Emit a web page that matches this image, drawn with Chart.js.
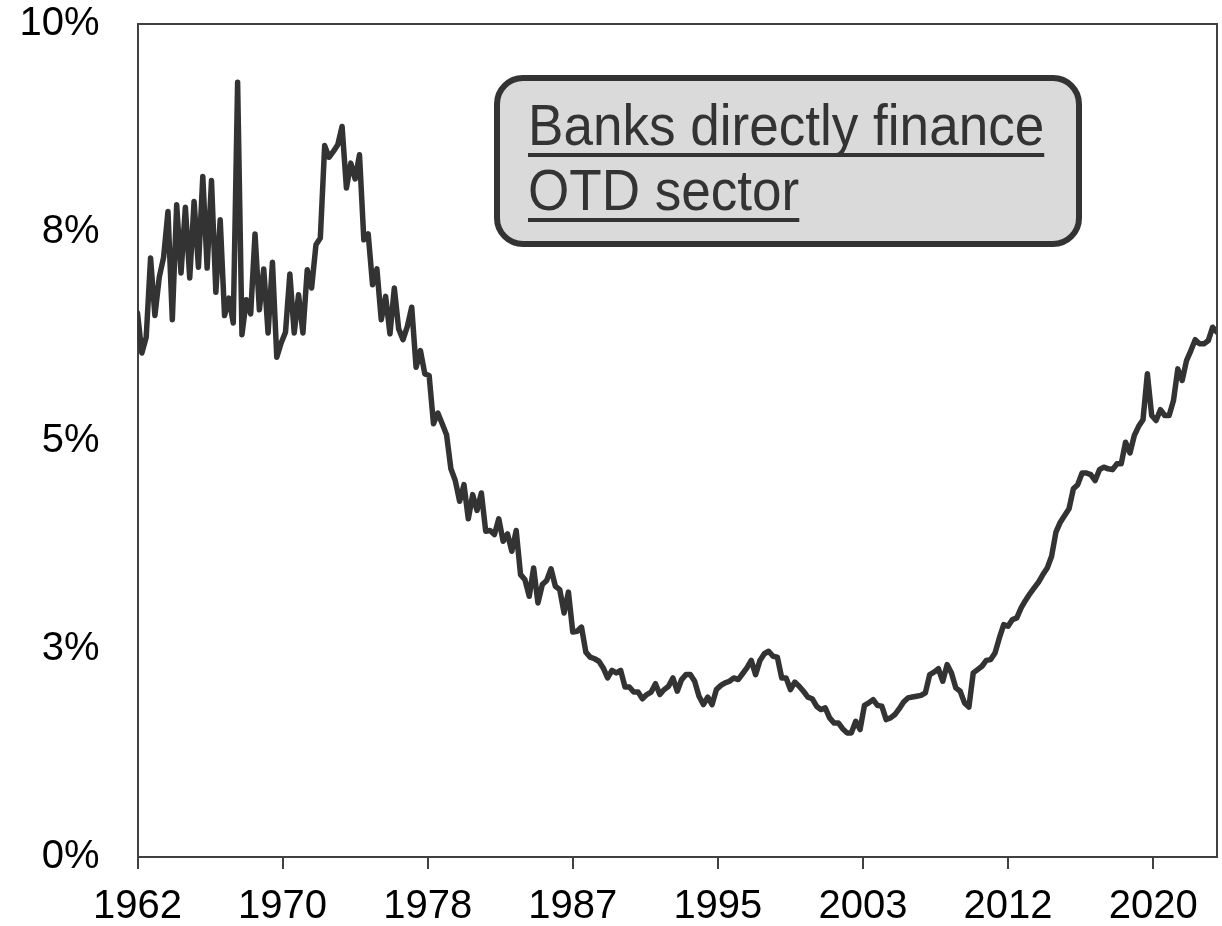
<!DOCTYPE html>
<html>
<head>
<meta charset="utf-8">
<title>Banks directly finance OTD sector</title>
<script src="https://cdn.jsdelivr.net/npm/chart.js@4.4.1/dist/chart.umd.min.js"></script>
<style>
  html, body { margin: 0; padding: 0; background: #ffffff; }
  #wrap { width: 1222px; height: 926px; }
</style>
</head>
<body>
<div id="wrap"><canvas id="otdChart" width="1222" height="926"></canvas></div>
<script>
// quarterly observations, first one is 1962 Q1 (percent)
const startYear = 1962;
const shareValues = [
  6.53, 6.05, 6.24, 7.19, 6.5, 6.96, 7.2, 7.75, 6.45, 7.83,
  7.01, 7.8, 6.95, 7.87, 7.08, 8.17, 7.07, 8.12, 6.78, 7.65,
  6.5, 6.71, 6.41, 9.3, 6.27, 6.69, 6.52, 7.48, 6.57, 7.06,
  6.29, 7.14, 6.0, 6.17, 6.3, 7.0, 6.29, 6.75, 6.29, 7.05,
  6.83, 7.35, 7.43, 8.54, 8.4,
  8.47, 8.55, 8.77, 8.03, 8.33, 8.14, 8.43, 7.41, 7.48, 6.87,
  7.06, 6.45, 6.73, 6.28, 6.83, 6.34, 6.21, 6.37, 6.6, 5.88,
  6.08, 5.8, 5.78,
  5.2, 5.33, 5.2, 5.07, 4.66, 4.52, 4.27, 4.47, 4.06, 4.35,
  4.16, 4.37, 3.91, 3.92, 3.87, 4.06, 3.79, 3.88, 3.67, 3.92,
  3.39, 3.33, 3.13, 3.47, 3.05, 3.27, 3.32, 3.46, 3.25, 3.21,
  2.93, 3.18, 2.7, 2.71, 2.76, 2.46, 2.4, 2.38,
  2.35, 2.27, 2.15, 2.24, 2.21, 2.24, 2.04, 2.04, 1.98, 1.98,
  1.9, 1.95, 1.98, 2.08, 1.95, 2.01, 2.05, 2.15, 1.99, 2.13,
  2.19, 2.19, 2.11, 1.93, 1.83, 1.92, 1.83, 2.01, 2.06, 2.09,
  2.11, 2.15, 2.13, 2.2, 2.27, 2.36, 2.19, 2.36, 2.44, 2.47,
  2.41, 2.4, 2.15, 2.15, 2.01,
  2.1, 2.05, 1.99, 1.92, 1.9, 1.81, 1.77, 1.79, 1.67, 1.61,
  1.61, 1.54, 1.49, 1.49, 1.63, 1.53, 1.82, 1.85, 1.89, 1.82,
  1.81, 1.65, 1.67, 1.71, 1.78, 1.86, 1.91, 1.92, 1.93, 1.94,
  1.97, 2.19, 2.22, 2.26, 2.11, 2.31, 2.21, 2.03, 1.99, 1.85,
  1.8, 2.21, 2.25, 2.29, 2.36, 2.37, 2.45, 2.63,
  2.79, 2.77, 2.85, 2.87, 2.99, 3.08, 3.16, 3.23, 3.3, 3.39,
  3.47, 3.61, 3.9, 4.02, 4.1, 4.18, 4.42, 4.47, 4.61, 4.61,
  4.59, 4.52, 4.65, 4.68, 4.66, 4.65, 4.72, 4.72, 4.98, 4.85,
  5.06, 5.17, 5.25, 5.8, 5.3, 5.24, 5.37, 5.3, 5.3, 5.48,
  5.86, 5.72, 5.96, 6.08, 6.21, 6.16, 6.16, 6.2, 6.36, 6.3
];

const xTickYears = [1962, 1970.333, 1978.667, 1987, 1995.333, 2003.667, 2012, 2020.333];
const xTickLabels = ['1962', '1970', '1978', '1987', '1995', '2003', '2012', '2020'];
const yTickValues = [0, 2.5, 5, 7.5, 10];
const yTickLabels = ['0%', '3%', '5%', '8%', '10%'];
const calloutLines = ['Banks directly finance', 'OTD sector'];

const points = shareValues.map((v, i) => ({ x: startYear + i / 4, y: v }));
const lastYear = points[points.length - 1].x;

const axisColor = '#404040';
const inkColor = '#333333';
const labelFont = { family: '"Liberation Sans", Arial, sans-serif', size: 40 };

// top and right sides of the plot frame
const plotFrame = {
  id: 'plotFrame',
  afterDatasetsDraw(chart) {
    const { ctx, chartArea } = chart;
    ctx.save();
    ctx.strokeStyle = axisColor;
    ctx.lineWidth = 2;
    ctx.beginPath();
    ctx.moveTo(chartArea.left, chartArea.top);
    ctx.lineTo(chartArea.right, chartArea.top);
    ctx.lineTo(chartArea.right, chartArea.bottom);
    ctx.stroke();
    ctx.restore();
  }
};

// grey rounded note with underlined text
const calloutBox = {
  id: 'calloutBox',
  afterDraw(chart) {
    const ctx = chart.ctx;
    ctx.save();
    ctx.beginPath();
    ctx.roundRect(497, 78, 582, 166, 26);
    ctx.fillStyle = '#dadada';
    ctx.fill();
    ctx.lineWidth = 6;
    ctx.strokeStyle = inkColor;
    ctx.stroke();

    const squeeze = 0.915;
    ctx.font = '58px "Liberation Sans", Arial, sans-serif';
    ctx.fillStyle = inkColor;
    ctx.textBaseline = 'alphabetic';
    const baselines = [145, 210];
    calloutLines.forEach((line, i) => {
      const w = ctx.measureText(line).width * squeeze;
      ctx.save();
      ctx.translate(528, baselines[i]);
      ctx.scale(squeeze, 1);
      ctx.fillText(line, 0, 0);
      ctx.restore();
      ctx.fillRect(528, baselines[i] + 8, w, 4);
    });
    ctx.restore();
  }
};

const ctx = document.getElementById('otdChart').getContext('2d');
new Chart(ctx, {
  type: 'line',
  data: {
    datasets: [{
      data: points,
      borderColor: inkColor,
      borderWidth: 5.5,
      borderJoinStyle: 'round',
      borderCapStyle: 'round',
      pointRadius: 0,
      tension: 0,
      fill: false
    }]
  },
  options: {
    responsive: false,
    animation: false,
    devicePixelRatio: 1,
    layout: { padding: { top: 24, right: 5, left: 0, bottom: 0 } },
    plugins: {
      legend: { display: false },
      tooltip: { enabled: false }
    },
    scales: {
      x: {
        type: 'linear',
        min: startYear,
        max: lastYear,
        afterBuildTicks: scale => { scale.ticks = xTickYears.map(v => ({ value: v })); },
        afterFit: scale => {
          scale.height = 69;
          scale.paddingLeft = 0;
          scale.paddingRight = 0;
        },
        ticks: {
          autoSkip: false,
          maxRotation: 0,
          padding: 14,
          color: '#000000',
          font: labelFont,
          callback: (value, index) => xTickLabels[index]
        },
        grid: {
          drawOnChartArea: false,
          drawTicks: true,
          tickLength: 12,
          color: axisColor,
          lineWidth: 2
        },
        border: { color: axisColor, width: 2 }
      },
      y: {
        min: 0,
        max: 10,
        afterBuildTicks: scale => { scale.ticks = yTickValues.map(v => ({ value: v })); },
        afterFit: scale => {
          scale.width = 137.5;
          scale.paddingTop = 0;
          scale.paddingBottom = 0;
        },
        ticks: {
          padding: 30,
          color: '#000000',
          font: labelFont,
          callback: (value, index) => yTickLabels[index]
        },
        grid: { display: false },
        border: { color: axisColor, width: 2 }
      }
    }
  },
  plugins: [plotFrame, calloutBox]
});
</script>
</body>
</html>
